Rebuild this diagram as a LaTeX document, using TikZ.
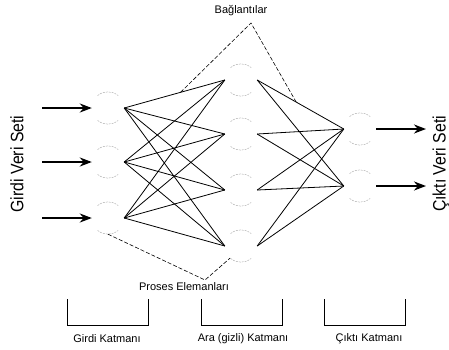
\documentclass[tikz,border=0pt]{standalone}
\usepackage{fontspec}
\setmainfont{Liberation Sans}
\usetikzlibrary{arrows.meta,calc}

\begin{document}
\begin{tikzpicture}[x=1pt,y=-1pt,>={Stealth[length=12pt,width=9pt]},
    neuron/.style={circle,minimum size=32pt,inner sep=0pt},
    rim/.style={gray!70,line width=0.4pt,dash pattern=on 2pt off 1pt},
    link/.style={line width=0.8pt},
    flow/.style={->,line width=2pt},
    pointer/.style={line width=0.6pt,dash pattern=on 4pt off 2pt},
    lbl/.style={font=\fontsize{11}{13}\selectfont},
    side/.style={rotate=90,inner sep=0pt,font=\fontsize{18}{21}\selectfont}]
    \useasboundingbox (0,0) rectangle (449,349);
    \foreach \i/\y in {1/108,2/162,3/218} \node[neuron] (i\i) at (108,\y) {};
    \foreach \h/\y in {1/80,2/134,3/190,4/246} \node[neuron] (h\h) at (241,\y) {};
    \foreach \o/\y in {1/129,2/186} \node[neuron] (o\o) at (360,\y) {};
    \foreach \n in {i1,i2,i3,h1,h2,h3,h4,o1,o2} {
        \draw[rim] (\n.130) arc[start angle=130,end angle=50,radius=16pt];
        \draw[rim] (\n.230) arc[start angle=230,end angle=310,radius=16pt];
    }
    \foreach \i in {1,2,3}
        \foreach \h in {1,...,4}
            \draw[link] (i\i.east) -- (h\h.west);
    \foreach \h in {1,...,4}
        \foreach \o in {1,2}
            \draw[link] (h\h.east) -- (o\o.west);
    \foreach \i/\y in {1/108,2/162,3/218} {
        \coordinate (a\i) at (42,\y);
        \draw[flow] (a\i) -- (i\i.west);
    }
    \foreach \o/\y in {1/129,2/186} {
        \coordinate (b\o) at (426,\y);
        \draw[flow] (o\o.east) -- (b\o);
    }
    \node[side] (gvs) at (17,164) {\scalebox{0.88}[1]{Girdi Veri Seti}};
    \node[side] (cvs) at (441,164) {\scalebox{0.88}[1]{Çıktı Veri Seti}};
    \node[lbl] (bag) at (241,11) {Bağlantılar};
    \coordinate (bagtip) at (251,23);
    \draw[pointer] ($(i1.east)!0.56!(h1.west)$) -- (bagtip) -- ($(h1.east)!0.45!(o1.west)$);
    \node[lbl] (pe) at (184,287) {Proses Elemanları};
    \coordinate (petip) at (205,280);
    \draw[pointer] (i3.south) -- (petip) -- (h4.228);
    \draw (67,299) -- (67,325) -- (148,325) -- (148,299);
    \draw (201,299) -- (201,325) -- (282,325) -- (282,299);
    \draw (324,299) -- (324,325) -- (405,325) -- (405,299);
    \node[lbl] (gk) at (107,339) {Girdi Katmanı};
    \node[lbl] (ak) at (243,339) {Ara (gizli) Katmanı};
    \node[lbl] (ck) at (369,339) {Çıktı Katmanı};
\end{tikzpicture}
\end{document}
